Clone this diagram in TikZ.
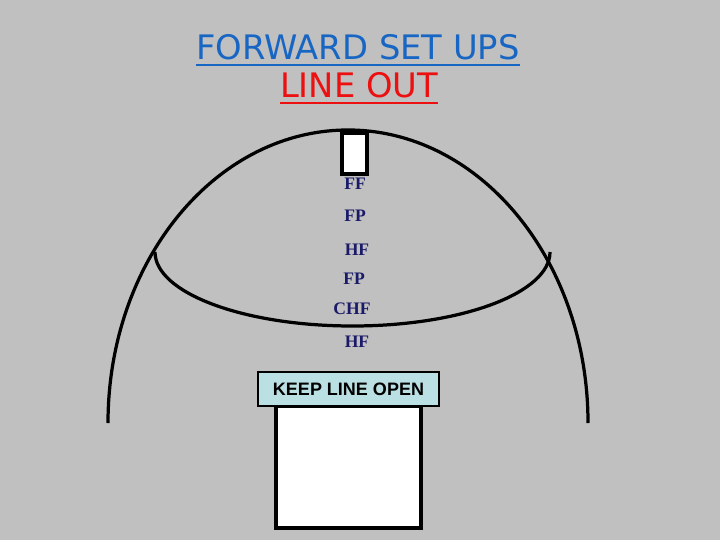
\documentclass[tikz,border=0pt]{standalone}
\usepackage{fontspec}
\setmainfont{Liberation Serif}
\setsansfont{Liberation Sans}
\newfontfamily\titlefont{DejaVu Sans}
\usepackage{tikz}

\definecolor{bggray}{RGB}{192,192,192}
\definecolor{titleblue}{RGB}{24,102,196}
\definecolor{titlered}{RGB}{236,16,16}
\definecolor{posnavy}{RGB}{26,26,104}
\definecolor{signblue}{RGB}{186,224,228}

\tikzset{
  player/.style={font=\bfseries\fontsize{12.5}{14}\selectfont, text=posnavy, inner sep=0pt},
  heading/.style={font=\titlefont\fontsize{24}{28}\selectfont, inner sep=0pt},
  bold line/.style={line width=2.3pt}
}

\begin{document}
\begin{tikzpicture}[x=0.025cm,y=0.025cm]
\useasboundingbox (0,0) rectangle (720,540);
\fill[bggray] (0,0) rectangle (720,540);

% Title lines
\node[heading, text=titleblue] (fwd) at (358,493) {FORWARD SET UPS};
\node[heading, text=titlered] (lo) at (359,455) {LINE OUT};
\draw[titleblue, line width=1.8pt] ([yshift=-4pt]fwd.base west) -- ([yshift=-4pt]fwd.base east);
\draw[titlered, line width=1.8pt] ([yshift=-4pt]lo.base west) -- ([yshift=-4pt]lo.base east);

% Thrower's mark at the top
\draw[fill=white, bold line] (342,366) rectangle (367,407);

% The outer line of the set up
\draw[bold line] (108,117) arc (180:0:240 and 293);

% The inner curve
\draw[bold line] (155,288) arc (180:360:197.5 and 74);

% Players down the line
\node[player] (ff) at (355,356) {FF};
\node[player] (fp1) at (355,324) {FP};
\node[player] (hf1) at (357,290) {HF};
\node[player] (fp2) at (354,261) {FP};
\node[player] (chf) at (352,231) {CHF};
\node[player] (hf2) at (357,198) {HF};

% Box and sign at the bottom
\draw[fill=white, bold line] (276,12) rectangle (421,134);
\node[draw, fill=signblue, line width=0.8pt, minimum width=181*0.025cm, minimum height=34*0.025cm,
      font=\sffamily\bfseries\fontsize{12.8}{15}\selectfont] (keep) at (348.5,151) {KEEP LINE OPEN};

\end{tikzpicture}
\end{document}
